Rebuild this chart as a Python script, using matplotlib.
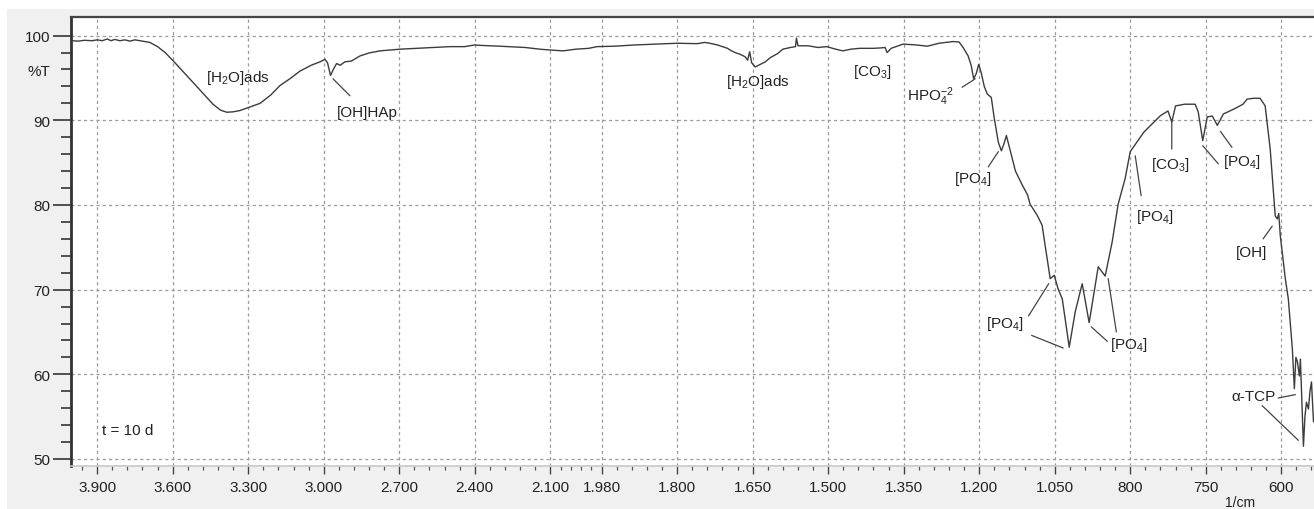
import numpy as np
import matplotlib
matplotlib.use("Agg")
import matplotlib.pyplot as plt
from matplotlib.patches import Rectangle

plt.rcParams['font.family'] = ['Liberation Sans', 'DejaVu Sans']
plt.rcParams['mathtext.fontset'] = 'custom'
plt.rcParams['mathtext.rm'] = 'Liberation Sans'
plt.rcParams['mathtext.it'] = 'Liberation Sans:italic'
plt.rcParams['mathtext.bf'] = 'Liberation Sans:bold'

# ---- data (wavenumber 1/cm, transmittance %T) ----
wavenumber = [4000, 3975, 3950, 3920, 3900, 3880, 3860, 3845, 3830, 3810, 3790, 3770, 3750,
              3730, 3710, 3691, 3660, 3630, 3599, 3560, 3520, 3480, 3440, 3410, 3385, 3360,
              3333, 3290, 3253, 3210, 3174, 3130, 3095, 3050, 3015, 2995, 2985, 2973, 2962,
              2949, 2935, 2916, 2890, 2856, 2820, 2777, 2697, 2600, 2499, 2440, 2400, 2379,
              2300, 2200, 2141, 2100, 2070, 2040, 2010, 1991, 1950, 1900, 1850, 1800, 1760,
              1745, 1735, 1720, 1710, 1700, 1695, 1685, 1675, 1665, 1660, 1656, 1652, 1645,
              1635, 1625, 1615, 1600, 1590, 1575, 1565, 1563, 1560, 1540, 1520, 1503, 1485,
              1471, 1455, 1437, 1410, 1395, 1387, 1383, 1375, 1351, 1325, 1303, 1280, 1252,
              1240, 1232, 1222, 1216, 1211, 1206, 1201, 1196, 1190, 1184, 1176, 1170, 1162,
              1156, 1151, 1146, 1140, 1128, 1114, 1104, 1099, 1085, 1075, 1069, 1062, 1059,
              1051, 1039, 1025, 1002, 982, 959, 936, 906, 883, 860, 840, 817, 800, 791, 780,
              775, 772.5, 770, 764, 757, 755, 752, 747, 737, 727, 715, 695, 676, 668, 655,
              642, 632, 622, 612, 608, 605, 602, 592, 586, 578, 574, 571, 568, 564, 562, 558,
              556, 553, 550, 546, 543, 540, 536]
transmittance = [99.4, 99.35, 99.45, 99.4, 99.5, 99.4, 99.6, 99.4, 99.55, 99.4, 99.5, 99.35, 99.5,
                 99.4, 99.3, 99.2, 98.7, 98.0, 97.05, 95.8, 94.5, 93.2, 91.9, 91.2, 90.95, 91.0,
                 91.15, 91.6, 92.0, 93.0, 94.1, 95.0, 95.8, 96.5, 96.9, 97.2, 96.8, 95.3, 96.0,
                 96.7, 96.5, 96.9, 97.0, 97.6, 97.95, 98.2, 98.4, 98.55, 98.7, 98.7, 98.9, 98.85,
                 98.75, 98.6, 98.4, 98.3, 98.2, 98.4, 98.5, 98.7, 98.75, 98.9, 99.0, 99.1, 99.05,
                 99.2, 99.1, 98.9, 98.7, 98.5, 98.3, 98.0, 97.8, 97.5, 97.1, 98.1, 96.8, 96.3,
                 96.6, 96.9, 97.4, 97.9, 98.4, 98.6, 98.7, 99.7, 98.8, 98.8, 98.6, 98.7, 98.4,
                 98.2, 98.4, 98.5, 98.5, 98.55, 98.6, 98.0, 98.5, 99.0, 98.9, 98.75, 99.1, 99.3,
                 99.25, 98.6, 97.6, 96.5, 94.9, 95.5, 96.6, 95.6, 94.0, 93.1, 92.7, 90.2, 87.4,
                 86.4, 87.2, 88.2, 86.8, 84.0, 82.3, 81.2, 80.1, 78.8, 77.6, 75.2, 72.5, 71.3,
                 71.7, 70.1, 68.9, 63.2, 67.4, 70.7, 66.1, 72.7, 71.6, 75.6, 80.1, 83.1, 86.3, 88.6, 90.55,
                 91.1, 89.8, 91.7, 91.9, 91.9, 91.0, 87.6, 90.4, 90.5, 89.4, 90.75, 91.3, 91.9, 92.5, 92.6,
                 92.6, 91.7, 86.6, 78.7, 78.35, 79.0, 76.4, 71.3, 68.9, 63.0, 58.3, 62.0, 61.5, 59.8, 61.8, 54.7,
                 51.5, 55.0, 56.7, 55.9, 58.0, 59.1, 54.4]

# x tick labels as printed on the instrument plot, and their slots on the axis
xtick_values = [3900, 3600, 3300, 3000, 2700, 2400, 2100, 1980, 1800, 1650, 1500,
                1350, 1200, 1050, 800, 750, 600]
xtick_labels = ['3.900', '3.600', '3.300', '3.000', '2.700', '2.400', '2.100', '1.980',
                '1.800', '1.650', '1.500', '1.350', '1.200', '1.050', '800', '750', '600']
xtick_slots = [0, 1, 2, 3, 4, 5, 6, 6.68, 7.68, 8.68, 9.68, 10.68, 11.68, 12.68,
               13.68, 14.68, 15.68]
ytick_values = [50, 60, 70, 80, 90, 100]

# piecewise-linear instrument axis (monotonically increasing in wavenumber)
sc_vals = np.array([4200] + xtick_values + [400], dtype=float)
sc_pos = np.array([-1.0] + xtick_slots + [15.68 + 200/150], dtype=float)

def fwd(w):
    return -np.interp(-np.asarray(w, dtype=float), -sc_vals, sc_pos)

def inv(p):
    return -np.interp(-np.asarray(p, dtype=float), sc_pos, -sc_vals)

W, H = 1314, 510
fig = plt.figure(figsize=(W/100, H/100), dpi=100, facecolor='white')
fig.patches.append(Rectangle((7/W, 0), 1, (H-10)/H, transform=fig.transFigure,
                             facecolor='#f0f0f0', edgecolor='none', zorder=-10))
ax = fig.add_axes([71/W, 43/H, 1 - 71/W, 449/H])
ax.set_facecolor('white')
ax.set_xscale('function', functions=(fwd, inv))
ax.set_xlim(4004, 535)
ax.set_ylim(49.17, 102.2)

ax.plot(wavenumber, transmittance, color='#3c3c3c', lw=1.0, zorder=3)

# ticks
ax.set_xticks(xtick_values)
ax.set_xticklabels(xtick_labels)
minor_x = []
ext = [3900 + 300] + xtick_values + [450]
for a, b in zip(ext[:-1], ext[1:]):
    minor_x += list(np.linspace(a, b, 6)[1:-1])
minor_x = [m for m in minor_x if 535 < m < 4004]
ax.set_xticks(minor_x, minor=True)

ax.set_yticks(ytick_values)
ax.set_yticklabels([str(v) for v in ytick_values])
minor_y = [v for v in range(52, 101, 2) if v % 10 != 0]
ax.set_yticks(minor_y, minor=True)
ax.set_yticklabels(['%T' if v == 96 else '' for v in minor_y], minor=True)

ax.tick_params(axis='y', which='major', length=13, width=1.3, pad=2, labelsize=11,
               color='#444', labelcolor='#222')
ax.tick_params(axis='y', which='minor', length=7, width=1.3, pad=8, labelsize=11,
               color='#444', labelcolor='#222')
ax.tick_params(axis='x', which='major', length=6, width=1.0, pad=4, labelsize=11,
               color='#444', labelcolor='#222')
ax.tick_params(axis='x', which='minor', length=3, width=0.9, color='#555')

ax.grid(True, which='major', color='#9a9a9a', linestyle=(0, (2.5, 2.5)), lw=0.9)

ax.spines['right'].set_visible(False)
ax.spines['left'].set_color('#333')
ax.spines['left'].set_linewidth(2.0)
ax.spines['top'].set_color('#444')
ax.spines['top'].set_linewidth(1.6)
ax.spines['bottom'].set_color('#c8c8c8')
ax.spines['bottom'].set_linewidth(1.2)

# annotations
fs = 11
tc = '#222'
lc = '#444'

def lead(p0, p1):
    ax.annotate('', xy=p1, xytext=p0,
                arrowprops=dict(arrowstyle='-', lw=0.9, color=lc, shrinkA=0, shrinkB=0))

ax.text(3341, 95.1, r'[H$_2$O]ads', fontsize=fs, color=tc, ha='center', va='center')
ax.text(2828, 91.0, '[OH]HAp', fontsize=fs, color=tc, ha='center', va='center')
lead((2963, 94.9), (2896, 92.9))
ax.text(1639, 94.65, r'[H$_2$O]ads', fontsize=fs, color=tc, ha='center', va='center')
ax.text(1413, 95.8, r'[CO$_3$]', fontsize=fs, color=tc, ha='center', va='center')
ax.text(1296, 92.9, r'HPO$_4^{-2}$', fontsize=fs, color=tc, ha='center', va='center')
lead((1234, 93.9), (1208, 94.9))
ax.text(1213, 83.2, r'[PO$_4$]', fontsize=fs, color=tc, ha='center', va='center')
lead((1182, 84.5), (1162, 86.3))
ax.text(773.6, 84.85, r'[CO$_3$]', fontsize=fs, color=tc, ha='center', va='center')
lead((772.5, 89.9), (772.5, 86.6))
ax.text(678, 85.2, r'[PO$_4$]', fontsize=fs, color=tc, ha='center', va='center')
lead((721, 88.7), (698, 86.8))
lead((752, 87.0), (725, 84.85))
ax.text(783.4, 78.7, r'[PO$_4$]', fontsize=fs, color=tc, ha='center', va='center')
lead((796.7, 85.8), (792.8, 81.1))
ax.text(659, 74.4, '[OH]', fontsize=fs, color=tc, ha='center', va='center')
lead((636, 76.0), (618, 77.5))
ax.text(1148, 66.1, r'[PO$_4$]', fontsize=fs, color=tc, ha='center', va='center')
lead((1102, 66.9), (1062, 70.7))
lead((1096, 64.6), (1022, 63.1))
ax.text(803, 63.6, r'[PO$_4$]', fontsize=fs, color=tc, ha='center', va='center')
lead((929, 65.6), (876, 63.9))
lead((873, 71.3), (846, 65.0))
ax.text(655, 57.4, 'α-TCP', fontsize=fs, color=tc, ha='center', va='center')
lead((606, 57.2), (572, 57.6))
lead((638, 56.3), (566, 52.2))
ax.text(3881, 53.4, 't = 10 d', fontsize=fs, color=tc, ha='left', va='center')

fig.text(1240/W, 1 - 503/H, '1/cm', fontsize=10, color=tc, ha='center', va='center')

fig.savefig('out.png', dpi=100, facecolor=fig.get_facecolor())
